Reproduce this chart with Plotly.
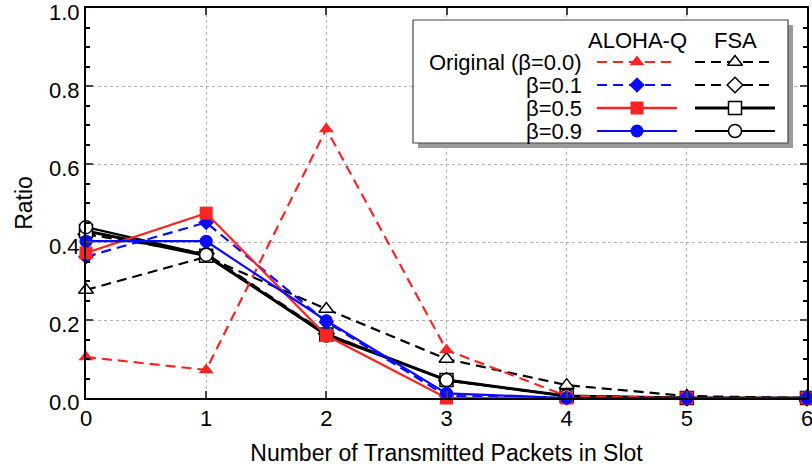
import plotly.graph_objects as go

packets = [0, 1, 2, 3, 4, 5, 6]
aloha_orig = [0.105, 0.072, 0.69, 0.123, 0.005, 0.0, 0.0]
fsa_orig = [0.277, 0.362, 0.228, 0.10, 0.033, 0.005, 0.0]
aloha_b01 = [0.362, 0.450, 0.195, 0.005, 0.0, 0.0, 0.0]
fsa_b01 = [0.42, 0.37, 0.165, 0.045, 0.005, 0.0, 0.0]
aloha_b05 = [0.372, 0.474, 0.160, 0.0, 0.0, 0.0, 0.0]
fsa_b05 = [0.428, 0.365, 0.163, 0.046, 0.005, 0.0, 0.0]
aloha_b09 = [0.402, 0.402, 0.198, 0.012, 0.0, 0.0, 0.0]
fsa_b09 = [0.438, 0.367, 0.160, 0.046, 0.005, 0.0, 0.0]

y_ticks = [0.0, 0.2, 0.4, 0.6, 0.8, 1.0]
row_labels = ["Original (β=0.0)", "β=0.1", "β=0.5", "β=0.9"]
col_labels = ["ALOHA-Q", "FSA"]

RED = "#ff2424"
BLUE = "#0a0aff"
BLK = "#000000"
FONT = "Liberation Sans, Arial, Helvetica, sans-serif"
DASH = "10px,6px"

series = [
    # (values, color, dash, width, symbol, fill)
    (fsa_orig, BLK, DASH, 2.2, "triangle-up", "white"),
    (fsa_b01, BLK, DASH, 2.2, "diamond", "white"),
    (fsa_b05, BLK, "solid", 3.0, "square", "white"),
    (fsa_b09, BLK, "solid", 2.2, "circle", "white"),
    (aloha_orig, RED, DASH, 2.2, "triangle-up", RED),
    (aloha_b01, BLUE, DASH, 2.2, "diamond", BLUE),
    (aloha_b05, RED, "solid", 2.2, "square", RED),
    (aloha_b09, BLUE, "solid", 2.2, "circle", BLUE),
]
sizes = {"triangle-up": 13, "diamond": 12, "square": 13, "circle": 13}

fig = go.Figure()
for vals, col, dash, w, sym, fill in series:
    fig.add_trace(go.Scatter(
        x=packets, y=vals, mode="lines+markers",
        line=dict(color=col, dash=dash, width=w),
        marker=dict(symbol=sym, size=sizes[sym], color=fill,
                    line=dict(color=col if fill != "white" else BLK, width=1.5 if fill == "white" else 0)),
        cliponaxis=False, showlegend=False,
    ))

# ---- custom legend on a pixel-coordinate overlay axis ----
L, T, R, B = 413, 20, 788, 143
S = 5
fig.add_trace(go.Scatter(x=[L + S, R + S, R + S, L + S, L + S], y=[T + S, T + S, B + S, B + S, T + S],
                         mode="lines", fill="toself", fillcolor="#9a9a9a", line=dict(width=0),
                         xaxis="x2", yaxis="y2", showlegend=False, hoverinfo="skip"))
fig.add_trace(go.Scatter(x=[L, R, R, L, L], y=[T, T, B, B, T],
                         mode="lines", fill="toself", fillcolor="white", line=dict(color="#444", width=1.2),
                         xaxis="x2", yaxis="y2", showlegend=False, hoverinfo="skip"))

col_centers = [637, 735]
for c, lab in zip(col_centers, col_labels):
    fig.add_annotation(x=c, y=40, xref="x2", yref="y2", text=lab, showarrow=False,
                       font=dict(family=FONT, size=22, color="black"))
row_y = [62, 85, 108, 131]
legend_style = [
    [(RED, DASH, 2.2, "triangle-up", RED), (BLK, DASH, 2.2, "triangle-up", "white")],
    [(BLUE, DASH, 2.2, "diamond", BLUE), (BLK, DASH, 2.2, "diamond", "white")],
    [(RED, "solid", 2.6, "square", RED), (BLK, "solid", 3.0, "square", "white")],
    [(BLUE, "solid", 2.2, "circle", BLUE), (BLK, "solid", 2.2, "circle", "white")],
]
for ry, lab, styles in zip(row_y, row_labels, legend_style):
    fig.add_annotation(x=584, y=ry, xref="x2", yref="y2", text=lab, showarrow=False,
                       xanchor="right", font=dict(family=FONT, size=22, color="black"))
    for c, (col, dash, w, sym, fill) in zip(col_centers, styles):
        fig.add_trace(go.Scatter(x=[c - 40, c + 40], y=[ry, ry], mode="lines", xaxis="x2", yaxis="y2",
                                 line=dict(color=col, dash=dash, width=w), showlegend=False, hoverinfo="skip"))
        fig.add_trace(go.Scatter(x=[c], y=[ry], mode="markers", xaxis="x2", yaxis="y2",
                                 marker=dict(symbol=sym, size=sizes[sym], color=fill,
                                             line=dict(color=col if fill != "white" else BLK,
                                                       width=1.5 if fill == "white" else 0)),
                                 showlegend=False, hoverinfo="skip"))

fig.update_layout(
    width=812, height=472,
    margin=dict(l=86, r=5, t=8, b=74),
    paper_bgcolor="white", plot_bgcolor="white",
    font=dict(family=FONT, size=22, color="black"),
    xaxis=dict(range=[0, 6], tickvals=packets, ticks="inside", ticklen=7, tickwidth=2,
               showline=True, linewidth=2, linecolor="black", mirror="ticks",
               showgrid=True, gridcolor="#b0b0b0", griddash="dot", gridwidth=1,
               zeroline=False, ticklabeloverflow="allow", automargin=False,
               title=dict(text="Number of Transmitted Packets in Slot", standoff=14,
                          font=dict(family=FONT, size=23))),
    yaxis=dict(range=[0, 1], tickvals=y_ticks, tickformat=".1f", ticks="inside", ticklen=7, tickwidth=2,
               showline=True, linewidth=2, linecolor="black", mirror="ticks",
               showgrid=True, gridcolor="#b0b0b0", griddash="dot", gridwidth=1,
               zeroline=False, ticklabeloverflow="allow", automargin=False, ticklabelshift=4,
               minor=dict(dtick=0.05, ticks="inside", ticklen=4, tickwidth=1.5, tickcolor="black",
                          showgrid=False),
               title=dict(text="Ratio", standoff=10, font=dict(family=FONT, size=23))),
    xaxis2=dict(overlaying="x", range=[86, 807], visible=False, fixedrange=True),
    yaxis2=dict(overlaying="y", range=[398, 8], visible=False, fixedrange=True),
)

fig.write_html("out.html")
